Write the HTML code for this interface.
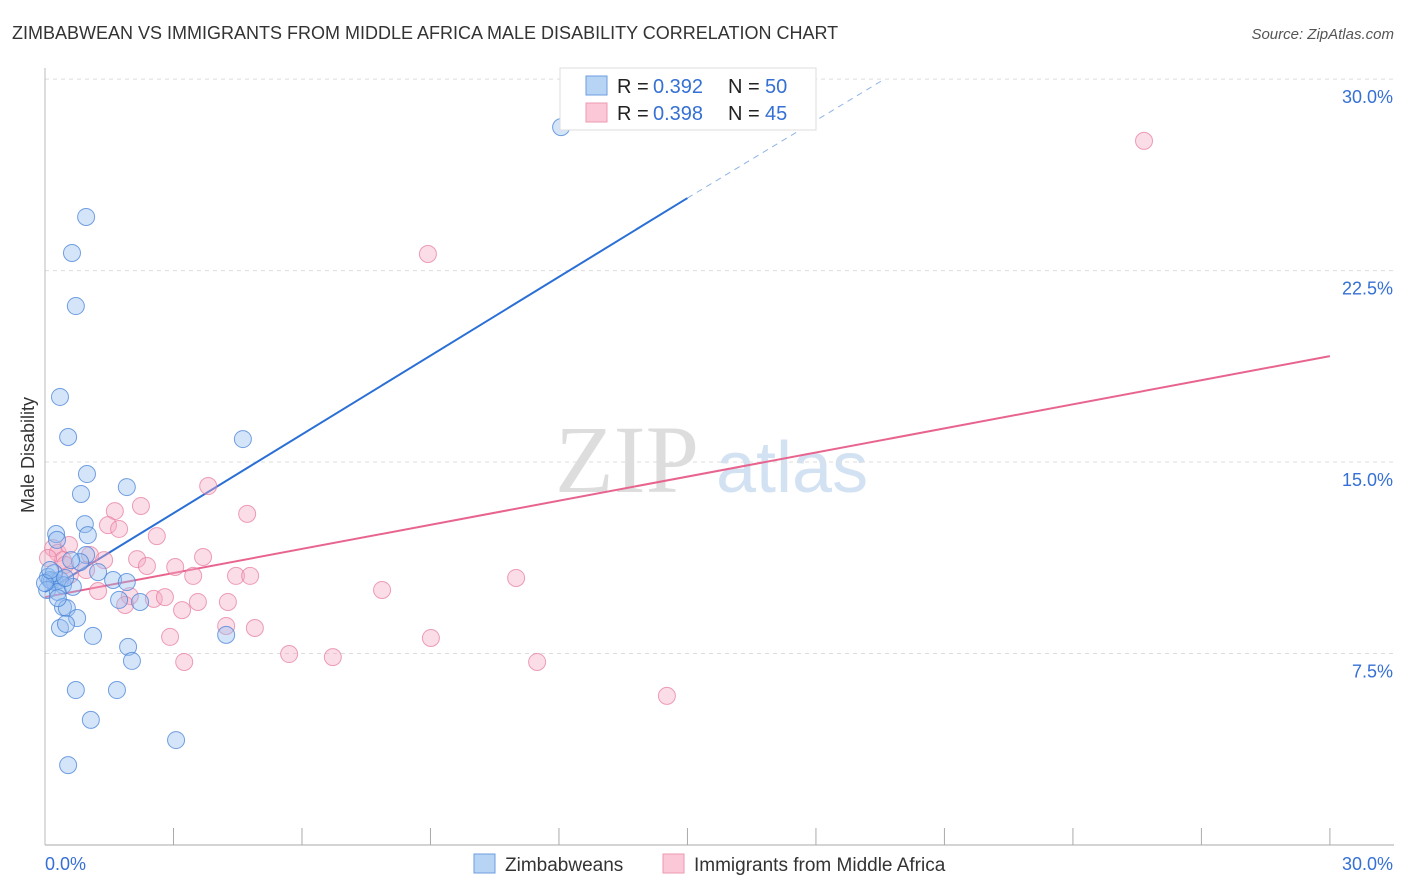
<!DOCTYPE html>
<html><head><meta charset="utf-8"><style>
body{margin:0;background:#fff;font-family:"Liberation Sans",sans-serif}
svg{display:block}
</style></head><body>
<svg id="chart" width="1406" height="892">
<text x="12" y="39" font-size="18" fill="#333">ZIMBABWEAN VS IMMIGRANTS FROM MIDDLE AFRICA MALE DISABILITY CORRELATION CHART</text>
<text x="1394" y="39" font-size="15" fill="#555" font-style="italic" text-anchor="end">Source: ZipAtlas.com</text>
<text x="555" y="492" font-size="96" fill="#ddd" font-family="Liberation Serif,serif">ZIP</text>
<text x="716" y="492" font-size="72" fill="#d3e2f3">atlas</text>
<text transform="translate(34,455) rotate(-90)" font-size="18" fill="#333" text-anchor="middle">Male Disability</text>
<g id="grid"></g><g id="lines"></g><g id="pts"></g>
<g>
<rect x="560" y="68" width="256" height="62" fill="#fff" stroke="#ddd"/>
<rect x="586" y="76" width="21" height="19" fill="#b8d4f4" stroke="#6b9ee0"/>
<rect x="586" y="103" width="21" height="19" fill="#fbc8d7" stroke="#ee9ab2"/>
<text x="617" y="93" font-size="20" fill="#222">R =</text>
<text x="653" y="93" font-size="20" fill="#3570d4">0.392</text>
<text x="728" y="93" font-size="20" fill="#222">N =</text>
<text x="765" y="93" font-size="20" fill="#3570d4">50</text>
<text x="617" y="120" font-size="20" fill="#222">R =</text>
<text x="653" y="120" font-size="20" fill="#3570d4">0.398</text>
<text x="728" y="120" font-size="20" fill="#222">N =</text>
<text x="765" y="120" font-size="20" fill="#3570d4">45</text>
</g>
<g>
<rect x="474" y="854" width="21" height="19" fill="#b8d4f4" stroke="#6b9ee0"/>
<text x="505" y="871" font-size="19" fill="#333">Zimbabweans</text>
<rect x="663" y="854" width="21" height="19" fill="#fbc8d7" stroke="#ee9ab2"/>
<text x="694" y="871" font-size="19" fill="#333">Immigrants from Middle Africa</text>
</g>
</svg>
<script>
const yTicks=[7.5,15,22.5,30];
const yTickLabels=["7.5%","15.0%","22.5%","30.0%"];
const xTickLabels=["0.0%","30.0%"];
const blueX=[12.05,0.96,0.63,0.72,0.35,0.54,4.62,0.98,1.91,0.84,0.93,0.26,0.28,1.00,0.96,0.07,0.16,0.23,0.12,0.35,0.42,0.05,0.30,0.65,1.24,1.59,1.91,1.73,2.22,0.42,0.51,0.75,0.35,0.49,1.12,4.23,1.94,2.03,0.72,1.68,1.07,3.06,0.54,0.21,0.0,0.12,0.30,0.82,0.47,0.61];
const blueY=[28.12,24.60,23.19,21.11,17.55,15.98,15.90,14.53,14.02,13.75,12.57,12.18,11.95,12.14,11.36,10.50,10.34,10.30,10.38,10.38,10.18,9.99,9.91,10.11,10.69,10.38,10.30,9.60,9.52,9.32,9.28,8.89,8.50,8.66,8.19,8.23,7.76,7.21,6.07,6.07,4.90,4.11,3.13,10.65,10.26,10.77,9.67,11.08,10.46,11.16];
const pinkX=[25.66,8.94,3.81,4.72,2.24,1.63,1.47,1.73,2.61,0.19,0.30,0.56,1.05,0.42,1.38,2.15,3.69,2.38,3.04,0.58,0.96,0.47,4.46,4.79,3.46,11.00,1.24,1.98,2.54,2.80,3.20,3.57,4.27,1.87,7.87,4.23,4.90,2.92,9.01,5.70,6.72,3.25,11.49,14.52,0.07];
const pinkY=[27.58,23.15,14.06,12.97,13.28,13.08,12.53,12.38,12.10,11.63,11.44,11.75,11.36,11.16,11.16,11.20,11.28,10.93,10.89,10.58,10.77,10.97,10.54,10.54,10.54,10.46,9.95,9.75,9.64,9.71,9.20,9.52,9.52,9.40,9.99,8.58,8.50,8.15,8.11,7.48,7.36,7.17,7.17,5.84,11.24];
const blueTrend=[[0,9.91],[15,25.34],[19.6,30]];
const pinkTrend=[[0,9.71],[30,19.15]];
const X=v=>45+v*42.83, Y=v=>845-v*25.53;
const NS="http://www.w3.org/2000/svg";
function mk(t,a,p){const e=document.createElementNS(NS,t);for(const k in a)e.setAttribute(k,a[k]);p.appendChild(e);return e;}
const grid=document.getElementById('grid');
yTicks.forEach((v,i)=>{
 const l=mk('line',{x1:45,x2:1394,y1:Y(v),y2:Y(v),stroke:'#ddd','stroke-dasharray':'4,4'},grid);
 
 
 const t=mk('text',{x:1393,y:Y(v)+24,'font-size':18,fill:'#3570d4','text-anchor':'end'},grid);
 t.textContent=yTickLabels[i];
 
 
});
mk('line',{x1:45,x2:45,y1:68,y2:845,stroke:'#bbb'},grid);
mk('line',{x1:45,x2:1394,y1:845,y2:845,stroke:'#aaa'},grid);
for(let i=1;i<=10;i++){mk('line',{x1:X(i*3),x2:X(i*3),y1:828,y2:845,stroke:'#aaa'},grid);}
[[0,45,'start'],[30,1393,'end']].forEach((d,i)=>{
 const t=mk('text',{x:d[1],y:870,'font-size':18,fill:'#3570d4','text-anchor':d[2]},grid);
 t.textContent=xTickLabels[i];
 
 
});
const lines=document.getElementById('lines');
const bl=mk('line',{x1:X(blueTrend[0][0]),y1:Y(blueTrend[0][1]),x2:X(blueTrend[1][0]),y2:Y(blueTrend[1][1]),stroke:'#2a6fd6','stroke-width':2},lines);


const bd=mk('line',{x1:X(blueTrend[1][0]),y1:Y(blueTrend[1][1]),x2:X(blueTrend[2][0]),y2:Y(blueTrend[2][1]),stroke:'#8fb3e8','stroke-width':1,'stroke-dasharray':'6,5'},lines);


const pl=mk('line',{x1:X(pinkTrend[0][0]),y1:Y(pinkTrend[0][1]),x2:X(pinkTrend[1][0]),y2:Y(pinkTrend[1][1]),stroke:'#e8648f','stroke-width':2},lines);


const pts=document.getElementById('pts');
pinkX.forEach((v,i)=>{
 const c=mk('circle',{cx:X(v),cy:Y(pinkY[i]),r:8.5,fill:'rgba(246,170,195,0.4)',stroke:'rgba(230,120,155,0.7)'},pts);
 
 
});
blueX.forEach((v,i)=>{
 const c=mk('circle',{cx:X(v),cy:Y(blueY[i]),r:8.5,fill:'rgba(150,190,240,0.4)',stroke:'rgba(70,130,215,0.75)'},pts);
 
 
});
</script>
</body></html>
